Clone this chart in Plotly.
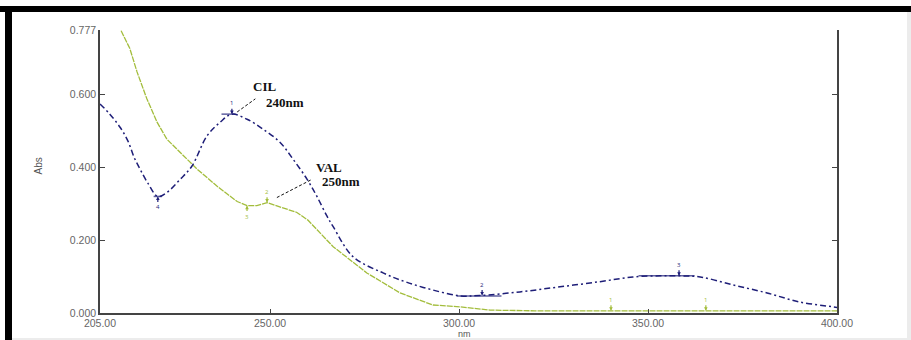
import plotly.graph_objects as go

# ---------------- data ----------------
blue_wl = [205, 207.6, 210.3, 212.4, 214.0, 215.6, 217.7, 220.3, 222.7, 226.2, 229.3,
           233.3, 236.8, 239.9, 243.9, 248.1, 252.6, 256.1, 259.8, 262.4, 265.1, 266.7,
           271.9, 279.9, 286.0, 293.1, 300.3, 305.5, 316.1, 326.7, 337.3, 346.0, 353.2,
           358.5, 363.8, 372.5, 381.5, 390.2, 398.9, 400]
blue_abs = [0.574, 0.546, 0.510, 0.472, 0.428, 0.395, 0.356, 0.320, 0.331, 0.367, 0.403,
            0.486, 0.524, 0.546, 0.532, 0.505, 0.469, 0.422, 0.367, 0.320, 0.265, 0.237,
            0.155, 0.110, 0.085, 0.063, 0.047, 0.048, 0.058, 0.072, 0.086, 0.099, 0.102,
            0.102, 0.099, 0.077, 0.055, 0.030, 0.017, 0.015]

green_wl = [209.0, 210.3, 212.9, 214.8, 217.4, 220.1, 222.7, 226.2, 230.7, 236.0, 241.3,
            243.9, 246.5, 249.2, 252.6, 257.1, 260.0, 266.7, 275.6, 284.4, 293.1, 300.3,
            308.2, 320.0, 340.0, 360.0, 380.0, 400.0]
green_abs = [0.830, 0.781, 0.726, 0.662, 0.588, 0.524, 0.477, 0.441, 0.395, 0.348, 0.306,
             0.295, 0.295, 0.303, 0.292, 0.276, 0.255, 0.182, 0.110, 0.055, 0.022, 0.017,
             0.008, 0.006, 0.006, 0.006, 0.006, 0.006]

x_ticks = [205, 250, 300, 350, 400]
x_ticktext = ["205.00", "250.00", "300.00", "350.00", "400.00"]
y_ticks = [0.0, 0.2, 0.4, 0.6, 0.777]
y_ticktext = ["0.000", "0.200", "0.400", "0.600", "0.777"]

# peak-pick marks: wavelength, absorbance, arrow direction (+1 from above, -1 from below), tiny label
blue_mark_wl = [239.9, 220.3, 306.1, 358.2]
blue_mark_abs = [0.546, 0.320, 0.048, 0.102]
blue_mark_dir = [1, -1, 1, 1]
blue_mark_lbl = ["1", "4", "2", "3"]
blue_bar_wl = [239.0, 220.3, 305.3, 354.9]
blue_bar_abs = [0.546, 0.320, 0.047, 0.102]
blue_bar_px = [10, 6, 32, 40]

green_mark_wl = [243.9, 249.2, 340.2, 365.3]
green_mark_abs = [0.295, 0.303, 0.006, 0.006]
green_mark_dir = [-1, 1, 1, 1]
green_mark_lbl = ["3", "2", "1", "1"]

BLUE = "#1e1e78"
GREEN = "#a3bd3c"

fig = go.Figure()
fig.add_trace(go.Scatter(x=green_wl, y=green_abs, mode="lines",
                         line=dict(color=GREEN, width=1.3, dash="6px,1px"),
                         showlegend=False, hoverinfo="skip"))
fig.add_trace(go.Scatter(x=blue_wl, y=blue_abs, mode="lines", line_shape="spline",
                         line=dict(color=BLUE, width=1.5, dash="6px,3px,2px,3px"),
                         showlegend=False, hoverinfo="skip"))
fig.add_trace(go.Scatter(x=blue_bar_wl, y=blue_bar_abs, mode="markers",
                         marker=dict(symbol="line-ew", size=blue_bar_px,
                                     line=dict(color=BLUE, width=1.5)),
                         showlegend=False, hoverinfo="skip", cliponaxis=False))

annotations = []
for wl, ab, d, lb in zip(blue_mark_wl, blue_mark_abs, blue_mark_dir, blue_mark_lbl):
    annotations.append(dict(x=wl, y=ab, xref="x", yref="y", text=lb, showarrow=True,
                            arrowhead=2, arrowsize=0.6, arrowwidth=1.2, arrowcolor=BLUE,
                            ax=0, ay=-11 * d, font=dict(size=6, color=BLUE)))
for wl, ab, d, lb in zip(green_mark_wl, green_mark_abs, green_mark_dir, green_mark_lbl):
    annotations.append(dict(x=wl, y=ab, xref="x", yref="y", text=lb, showarrow=True,
                            arrowhead=2, arrowsize=0.6, arrowwidth=1.2, arrowcolor=GREEN,
                            ax=0, ay=-11 * d, font=dict(size=6, color=GREEN)))

lab_font = dict(family="Liberation Serif", size=13, color="#111")
annotations += [
    dict(x=248.4, y=0.621, xref="x", yref="y", text="<b>CIL</b>", showarrow=False, font=lab_font),
    dict(x=254.0, y=0.579, xref="x", yref="y", text="<b>240nm</b>", showarrow=False, font=lab_font),
    dict(x=265.6, y=0.400, xref="x", yref="y", text="<b>VAL</b>", showarrow=False, font=lab_font),
    dict(x=268.8, y=0.361, xref="x", yref="y", text="<b>250nm</b>", showarrow=False, font=lab_font),
    dict(x=(30 - 100) / 737, y=(313 - 166) / 283, xref="paper", yref="paper", text="Abs",
         textangle=-90, showarrow=False, font=dict(family="Liberation Sans", size=10, color="#555")),
    dict(x=(464 - 100) / 737, y=(313 - 334) / 283, xref="paper", yref="paper", text="nm",
         xanchor="center", yanchor="middle",
         showarrow=False, font=dict(family="Liberation Sans", size=9, color="#555")),
]

def px2paper(px, py):
    return (px - 100) / 737, (313 - py) / 283

shapes = []
# dashed connectors from labels to peaks
shapes.append(dict(type="line", xref="x", yref="y", x0=241.3, y0=0.552, x1=246.1, y1=0.588,
                   line=dict(color="#111", width=1, dash="3px,2px")))
shapes.append(dict(type="line", xref="x", yref="y", x0=251.8, y0=0.317, x1=261.1, y1=0.367,
                   line=dict(color="#111", width=1, dash="3px,2px")))
# black frame (top and left bars), light grey bottom/right edges
x0, y0 = px2paper(0, 6); x1, y1 = px2paper(911, 12)
shapes.append(dict(type="rect", xref="paper", yref="paper", x0=x0, y0=y0, x1=x1, y1=y1,
                   fillcolor="black", line=dict(width=0), layer="above"))
x0, y0 = px2paper(5, 6); x1, y1 = px2paper(12, 340)
shapes.append(dict(type="rect", xref="paper", yref="paper", x0=x0, y0=y0, x1=x1, y1=y1,
                   fillcolor="black", line=dict(width=0), layer="above"))
x0, y0 = px2paper(12, 338); x1, y1 = px2paper(911, 340)
shapes.append(dict(type="rect", xref="paper", yref="paper", x0=x0, y0=y0, x1=x1, y1=y1,
                   fillcolor="#ececec", line=dict(width=0), layer="above"))
x0, y0 = px2paper(907, 12); x1, y1 = px2paper(911, 340)
shapes.append(dict(type="rect", xref="paper", yref="paper", x0=x0, y0=y0, x1=x1, y1=y1,
                   fillcolor="#ececec", line=dict(width=0), layer="above"))

tick_font = dict(family="Liberation Sans", size=10.5, color="#666")
fig.update_layout(
    width=911, height=340,
    margin=dict(l=100, r=74, t=30, b=27, pad=0),
    paper_bgcolor="white", plot_bgcolor="white",
    xaxis=dict(range=[205, 400], tickvals=x_ticks, ticktext=x_ticktext, showgrid=False,
               zeroline=False, showline=True, linecolor="#444", linewidth=1.5,
               ticks="inside", ticklen=4, tickcolor="#444", tickfont=tick_font),
    yaxis=dict(range=[0, 0.777], tickvals=y_ticks, ticktext=y_ticktext, showgrid=False,
               zeroline=False, showline=True, linecolor="#444", linewidth=1.5,
               mirror="ticks", ticks="inside", ticklen=5, tickcolor="#444",
               tickfont=tick_font),
    annotations=annotations, shapes=shapes,
)

fig.write_html("out.html", config={"displayModeBar": False},
               post_script="document.body.style.margin='0';document.body.style.overflow='hidden';")
